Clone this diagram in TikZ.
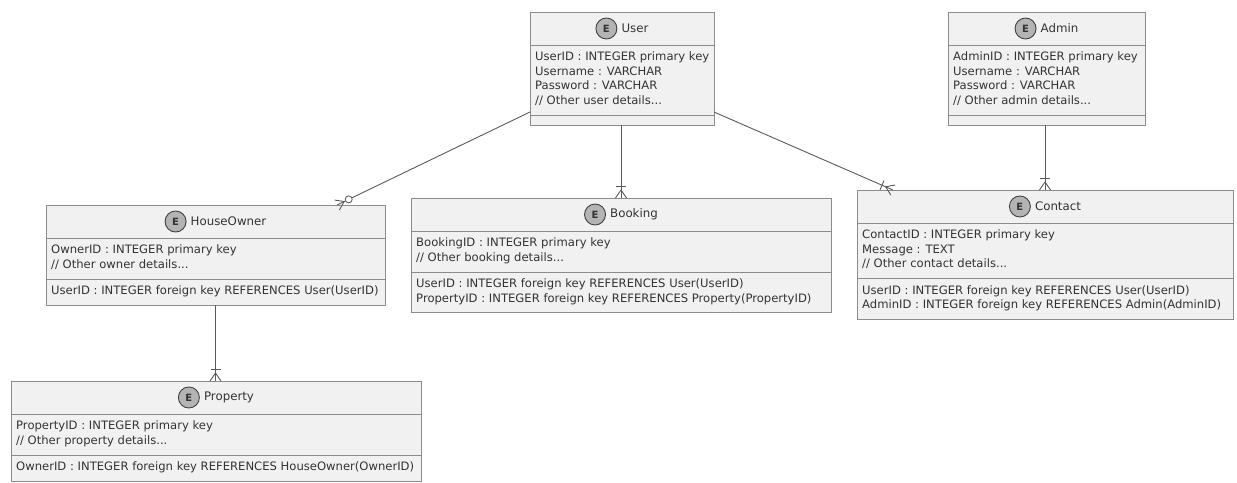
\documentclass[tikz,border=0pt]{standalone}
\usepackage{fontspec}
\setmainfont{DejaVu Sans}
\usetikzlibrary{calc,positioning}
\definecolor{boxfill}{HTML}{F1F1F1}
\definecolor{boxline}{HTML}{8C8C8C}
\definecolor{txt}{HTML}{333333}
\definecolor{circfill}{HTML}{B4B4B4}
\definecolor{connc}{HTML}{5A5A5A}
\newcommand{\ddd}{...}

\newcommand{\entity}[9]{%
 % #1 name #2 left #3 top #4 width #5 title #6 n #7 attrs #8 m #9 fks
 \pgfmathsetmacro{\hA}{12+14.5*#6}%
 \pgfmathsetmacro{\hB}{ifthenelse(#8==0,10,11.5+14.5*#8)}%
 \pgfmathsetmacro{\hT}{33+\hA+\hB}%
 \pgfmathsetmacro{\yS}{#3+33}%
 \pgfmathsetmacro{\yT}{#3+33+\hA}%
 \node[ebox, minimum width=#4pt, minimum height=\hT pt] (#1) at (#2,#3) {};
 \draw[sepl] (#2,\yS) -- ++(#4,0);
 \draw[sepl] (#2,\yT) -- ++(#4,0);
 \node[ttl] (#1-t) at ($(#1.north)+(13,16.5)$) {#5};
 \node[ecirc, left=4pt of #1-t] (#1-c) {E};
 \foreach \s [count=\i] in {#7} { \node[attr] (#1-a\i) at (#2+5, \yS+15.5+14.5*\i-14.5) {\s}; }
 \ifnum#8>0 \foreach \s [count=\i] in {#9} { \node[attr] (#1-f\i) at (#2+5, \yT+15.5+14.5*\i-14.5) {\s}; }\fi
}
\newcommand{\crowfoot}[2]{%
 \draw[conn] ($(#1)!8pt!(#2)$) -- ($(#1)!5.5pt!90:(#2)$);
 \draw[conn] ($(#1)!8pt!(#2)$) -- ($(#1)!5.5pt!-90:(#2)$);
}
\newcommand{\onebar}[2]{%
 \draw[conn] ($(#1)!12pt!(#2)!5pt!90:(#2)$) -- ($(#1)!12pt!(#2)!5pt!-90:(#2)$);
}
\newcommand{\zerocirc}[3]{%
 \node[circle, draw=connc, fill=white, line width=0.8pt, minimum size=7pt, inner sep=0pt] (#3) at ($(#1)!13pt!(#2)$) {};
}

\begin{document}
\begin{tikzpicture}[x=1pt,y=-1pt,
  ebox/.style={draw=boxline, fill=boxfill, line width=0.8pt, anchor=north west, inner sep=0pt, outer sep=0pt},
  sepl/.style={draw=boxline, line width=0.8pt},
  attr/.style={anchor=base west, inner sep=0pt, text=txt, font=\fontsize{11.6}{13}\selectfont},
  ttl/.style={inner sep=0pt, text=txt, font=\fontsize{11.8}{13}\selectfont},
  ecirc/.style={circle, draw=black!75, fill=circfill, line width=0.9pt, minimum size=21pt, inner sep=0pt, font=\bfseries\fontsize{10}{12}\selectfont, text=black!80},
  conn/.style={draw=connc, line width=0.9pt},
]
\useasboundingbox (0,0) rectangle (1237,482);

\entity{user}{530}{12}{184}{User}{4}{UserID : INTEGER primary key, Username : VARCHAR, Password : VARCHAR, // Other user details\ddd}{0}{}
\entity{admin}{948}{12}{197}{Admin}{4}{AdminID : INTEGER primary key, Username : VARCHAR, Password : VARCHAR, // Other admin details\ddd}{0}{}
\entity{owner}{46}{205}{339}{HouseOwner}{2}{OwnerID : INTEGER primary key, // Other owner details\ddd}{1}{UserID : INTEGER foreign key REFERENCES User(UserID)}
\entity{booking}{411}{198}{420}{Booking}{2}{BookingID : INTEGER primary key, // Other booking details\ddd}{2}{UserID : INTEGER foreign key REFERENCES User(UserID), PropertyID : INTEGER foreign key REFERENCES Property(PropertyID)}
\entity{contact}{857}{190}{376}{Contact}{3}{ContactID : INTEGER primary key, Message : TEXT, // Other contact details\ddd}{2}{UserID : INTEGER foreign key REFERENCES User(UserID), AdminID : INTEGER foreign key REFERENCES Admin(AdminID)}
\entity{property}{11}{381}{410}{Property}{2}{PropertyID : INTEGER primary key, // Other property details\ddd}{1}{OwnerID : INTEGER foreign key REFERENCES HouseOwner(OwnerID)}

% User -> HouseOwner (zero or many)
\coordinate (c1s) at ($(user.south west)+(0,-13)$);
\coordinate (c1e) at ($(owner.north west)+(291,0)$);
\draw[conn] (c1s) -- (c1e);
\crowfoot{c1e}{c1s}
\zerocirc{c1e}{c1s}{c1o}

% User -> Booking (one or many)
\coordinate (c2s) at (booking.north |- user.south);
\draw[conn] (c2s) -- (booking.north);
\crowfoot{booking.north}{c2s}
\onebar{booking.north}{c2s}

% User -> Contact (one or many)
\coordinate (c3s) at ($(user.south east)+(0,-13)$);
\coordinate (c3e) at ($(contact.north west)+(36,0)$);
\draw[conn] (c3s) -- (c3e);
\crowfoot{c3e}{c3s}
\onebar{c3e}{c3s}

% Admin -> Contact (one or many)
\coordinate (c4s) at (contact.north |- admin.south);
\draw[conn] (c4s) -- (contact.north);
\crowfoot{contact.north}{c4s}
\onebar{contact.north}{c4s}

% HouseOwner -> Property (one or many)
\coordinate (c5e) at (owner.south |- property.north);
\draw[conn] (owner.south) -- (c5e);
\crowfoot{c5e}{owner.south}
\onebar{c5e}{owner.south}
\end{tikzpicture}
\end{document}
